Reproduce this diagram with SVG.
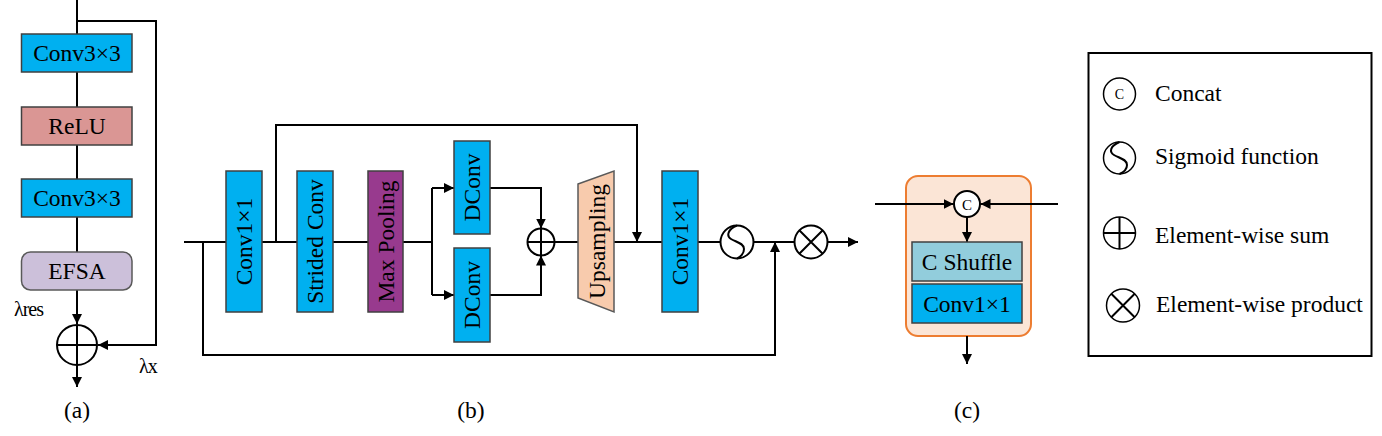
<svg xmlns="http://www.w3.org/2000/svg" width="1382" height="436" viewBox="0 0 1382 436">
<style>
text{font-family:"Liberation Serif","Times New Roman",serif;fill:#000}
.t{font-size:23.5px}
.ln{stroke:#000;stroke-width:2;fill:none}
.op{stroke:#000;stroke-width:2;fill:#fff}
.blue{fill:#00b0f0;stroke:#404040;stroke-width:1.5}
.relu{fill:#da9694;stroke:#404040;stroke-width:1.5}
.efsa{fill:#ccc0da;stroke:#595959;stroke-width:1.5}
.mp{fill:#983a8e;stroke:#404040;stroke-width:1.5}
.up{fill:#f8cbad;stroke:#595959;stroke-width:1.5}
.cs{fill:#92cddc;stroke:#404040;stroke-width:1.5}
</style>
<defs>
<marker id="ah" viewBox="0 0 10 10" refX="10" refY="5" markerWidth="10" markerHeight="10" markerUnits="userSpaceOnUse" orient="auto">
<path d="M0,0 L10,5 L0,10 z" fill="#000"/>
</marker>
<g id="sumsym"><circle r="1" /></g>
</defs>

<!-- ===== (a) ===== -->
<g id="connectors-a">
<path class="ln" d="M77,0 V34"/>
<path class="ln" d="M77,21 H156 V345 H98" marker-end="url(#ah)"/>
<path class="ln" d="M77,72 V107"/>
<path class="ln" d="M77,145 V179"/>
<path class="ln" d="M77,217 V252"/>
<path class="ln" d="M77,290 V324" marker-end="url(#ah)"/>
<path class="ln" d="M77,365 V387" marker-end="url(#ah)"/>
</g>
<g id="a-conv1"><rect class="blue" x="21.5" y="34" width="110.5" height="38"/><text class="t" x="77" y="61" text-anchor="middle">Conv3×3</text></g>
<g id="a-relu"><rect class="relu" x="21.5" y="107" width="110.5" height="38"/><text class="t" x="77" y="134" text-anchor="middle">ReLU</text></g>
<g id="a-conv2"><rect class="blue" x="21.5" y="179" width="110.5" height="38"/><text class="t" x="77" y="206" text-anchor="middle">Conv3×3</text></g>
<g id="a-efsa"><rect class="efsa" x="21.5" y="252" width="110.5" height="38" rx="9"/><text class="t" x="77" y="279" text-anchor="middle">EFSA</text></g>
<g id="a-sum"><circle class="op" cx="77" cy="345" r="20"/><path class="ln" d="M57,345 H97 M77,325 V365"/></g>
<text x="14" y="316" style="font-size:20px" letter-spacing="-1">λres</text>
<text x="139" y="373" style="font-size:20px" letter-spacing="-1">λx</text>
<text class="t" x="77" y="418" text-anchor="middle">(a)</text>

<!-- ===== (b) ===== -->
<g id="connectors-b">
<path class="ln" d="M184,242 H226"/>
<path class="ln" d="M262,242 H297"/>
<path class="ln" d="M333,242 H368"/>
<path class="ln" d="M403,242 H432"/>
<path class="ln" d="M432,188 V295"/>
<path class="ln" d="M432,188 H454" marker-end="url(#ah)"/>
<path class="ln" d="M432,295 H454" marker-end="url(#ah)"/>
<path class="ln" d="M490,188 H541 V228.5" marker-end="url(#ah)"/>
<path class="ln" d="M490,295 H541 V255.5" marker-end="url(#ah)"/>
<path class="ln" d="M554.5,242 H578"/>
<path class="ln" d="M614,242 H662"/>
<path class="ln" d="M276,242 V125 H637 V242" marker-end="url(#ah)"/>
<path class="ln" d="M698,242 H720"/>
<path class="ln" d="M753.5,242 H794.5"/>
<path class="ln" d="M203,242 V355 H775 V242" marker-end="url(#ah)"/>
<path class="ln" d="M827,242 H858" marker-end="url(#ah)"/>
</g>
<g id="b-conv1"><rect class="blue" x="226" y="171" width="36" height="141"/><text class="t" transform="translate(244,241.5) rotate(-90)" y="8" text-anchor="middle">Conv1×1</text></g>
<g id="b-strided"><rect class="blue" x="297" y="171" width="36" height="141"/><text class="t" transform="translate(315,241.5) rotate(-90)" y="8" text-anchor="middle">Strided Conv</text></g>
<g id="b-maxpool"><rect class="mp" x="368" y="171" width="35" height="141"/><text class="t" transform="translate(385.5,241.5) rotate(-90)" y="8" text-anchor="middle">Max Pooling</text></g>
<g id="b-dconv1"><rect class="blue" x="454" y="141" width="36" height="93"/><text class="t" transform="translate(472,187.5) rotate(-90)" y="8" text-anchor="middle">DConv</text></g>
<g id="b-dconv2"><rect class="blue" x="454" y="248" width="36" height="94"/><text class="t" transform="translate(472,295) rotate(-90)" y="8" text-anchor="middle">DConv</text></g>
<g id="b-sum"><circle class="op" cx="541" cy="242" r="13.5"/><path class="ln" d="M527.5,242 H554.5 M541,228.5 V255.5"/></g>
<g id="b-upsampling"><path class="up" d="M578,184 L614,171 L614,312 L578,298 Z"/><text class="t" transform="translate(597,241.5) rotate(-90)" y="8" text-anchor="middle">Upsampling</text></g>
<g id="b-conv2"><rect class="blue" x="662" y="171" width="36" height="141"/><text class="t" transform="translate(680,241.5) rotate(-90)" y="8" text-anchor="middle">Conv1×1</text></g>
<g id="b-sigmoid"><circle class="op" cx="737" cy="242" r="16.5"/><path class="ln" d="M737,225.5 C728,229 726,236 731,239 C736,242 744,243 744,249 C744,253 741,257 737,258.5"/></g>
<g id="b-product"><circle class="op" cx="811" cy="242" r="16.5"/><path class="ln" d="M799.3,230.3 L822.7,253.7 M822.7,230.3 L799.3,253.7"/></g>
<text class="t" x="471" y="418" text-anchor="middle">(b)</text>

<!-- ===== (c) ===== -->
<g id="c-block"><rect x="906" y="176" width="125" height="160" rx="12" fill="#fbe5d6" stroke="#ed7d31" stroke-width="2"/></g>
<g id="connectors-c">
<path class="ln" d="M875,204 H953.5" marker-end="url(#ah)"/>
<path class="ln" d="M1058,204 H980.5" marker-end="url(#ah)"/>
<path class="ln" d="M967,217 V242" marker-end="url(#ah)"/>
<path class="ln" d="M967,336 V364" marker-end="url(#ah)"/>
</g>
<g id="c-concat"><circle class="op" cx="967" cy="204" r="13"/><text x="967" y="209.5" text-anchor="middle" style="font-size:15px">C</text></g>
<g id="c-shuffle"><rect class="cs" x="912" y="242" width="110" height="39"/><text class="t" x="967" y="270" text-anchor="middle">C Shuffle</text></g>
<g id="c-conv"><rect class="blue" x="912" y="284" width="110" height="39"/><text class="t" x="967" y="312" text-anchor="middle">Conv1×1</text></g>
<text class="t" x="967" y="418" text-anchor="middle">(c)</text>

<!-- ===== legend ===== -->
<g id="legend">
<rect x="1088.5" y="53" width="283" height="303" fill="#fff" stroke="#000" stroke-width="2"/>
<circle class="op" cx="1119.5" cy="94" r="16" style="stroke-width:1.5"/>
<text x="1119.5" y="99" text-anchor="middle" style="font-size:14px">C</text>
<text class="t" x="1155" y="101">Concat</text>
<circle class="op" cx="1119.5" cy="158" r="16" style="stroke-width:1.5"/>
<path class="ln" d="M1119.5,142 C1110,146 1109,152 1114,155 C1119,158 1127,159 1127,165 C1127,169 1124,172 1119.5,174"/>
<text class="t" x="1155" y="164">Sigmoid function</text>
<circle class="op" cx="1119.5" cy="233" r="16" style="stroke-width:1.5"/>
<path class="ln" d="M1103.5,233 H1135.5 M1119.5,217 V249"/>
<text class="t" x="1155" y="243">Element-wise sum</text>
<circle class="op" cx="1123" cy="305.5" r="16.5" style="stroke-width:1.5"/>
<path class="ln" d="M1111.3,293.8 L1134.7,317.2 M1134.7,293.8 L1111.3,317.2"/>
<text class="t" x="1156" y="312">Element-wise product</text>
</g>
</svg>
